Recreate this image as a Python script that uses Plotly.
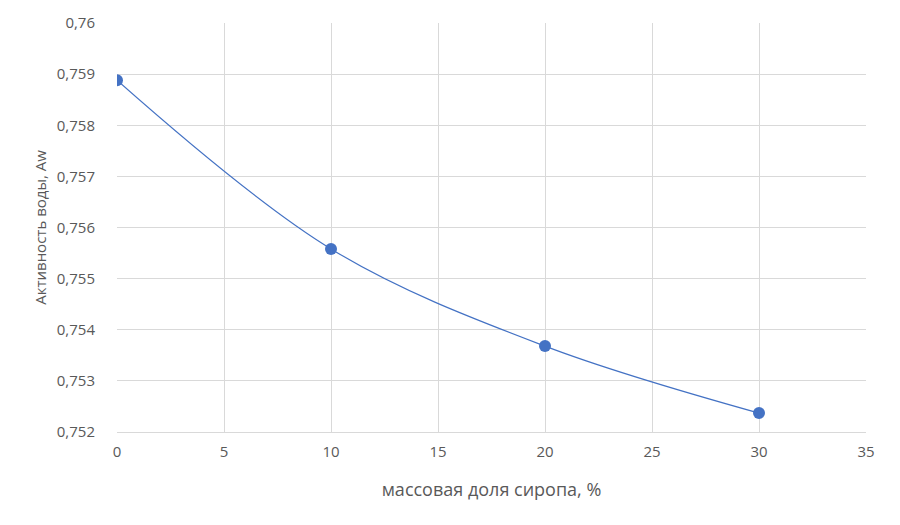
import plotly.graph_objects as go

# массовая доля сиропа, % и активность воды
syrup_share = [0, 10, 20, 30]
water_activity = [0.75888, 0.75558, 0.75368, 0.75237]

x_ticks = [0, 5, 10, 15, 20, 25, 30, 35]
y_ticks = [0.752, 0.753, 0.754, 0.755, 0.756, 0.757, 0.758, 0.759, 0.760]

blue = '#4472C4'
grid = '#d9d9d9'
txt = '#595959'

fig = go.Figure(
    data=[
        go.Scatter(
            x=syrup_share,
            y=water_activity,
            mode='lines+markers',
            line=dict(shape='spline', color=blue, width=1.2),
            marker=dict(size=12, color=blue),
            showlegend=False,
        )
    ]
)

# page body adds 8px on the left/top, margins compensate for it
fig.update_layout(
    width=900,
    height=525,
    paper_bgcolor='white',
    plot_bgcolor='white',
    separators=', ',
    font=dict(family='Open Sans, Lato, sans-serif', size=15, color=txt),
    margin=dict(l=109, r=42, t=15, b=101),
)

fig.update_xaxes(
    range=[0, 35],
    tickvals=x_ticks,
    automargin=False,
    showgrid=True,
    gridcolor=grid,
    gridwidth=1,
    zeroline=False,
    showline=True,
    linecolor=grid,
    ticks='outside',
    ticklen=6,
    tickcolor='rgba(0,0,0,0)',
    title=dict(text='массовая доля сиропа, %', standoff=23, font=dict(size=18)),
)

fig.update_yaxes(
    range=[0.752, 0.760],
    tickvals=y_ticks,
    tickformat='.3~f',
    automargin=False,
    showgrid=True,
    gridcolor=grid,
    gridwidth=1,
    zeroline=False,
    showline=False,
    ticks='outside',
    ticklen=18,
    tickcolor='rgba(0,0,0,0)',
    title=dict(text='Активность воды, Aw', standoff=6, font=dict(size=15)),
)

fig.write_html('out.html')
